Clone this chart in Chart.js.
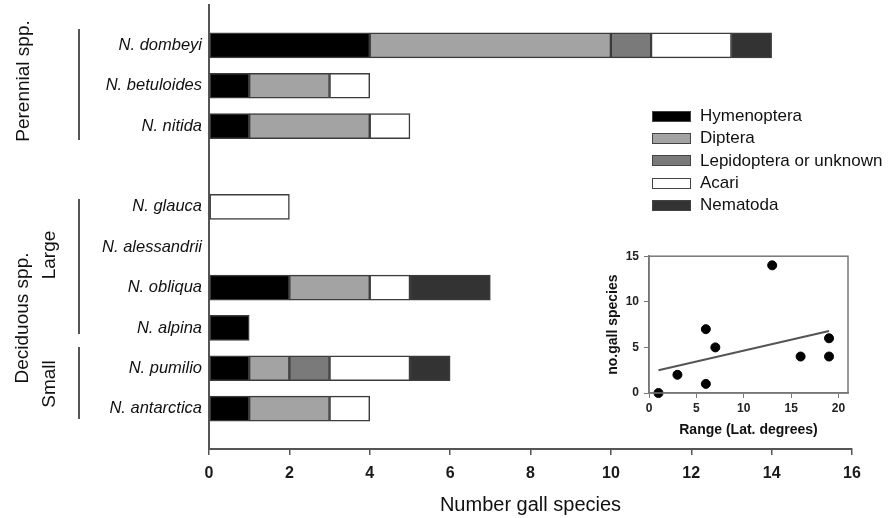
<!DOCTYPE html>
<html>
<head>
<meta charset="utf-8">
<script src="https://cdn.jsdelivr.net/npm/chart.js@4.4.1/dist/chart.umd.min.js"></script>
<style>
  html, body { margin: 0; padding: 0; background: #fff; }
  #wrap { position: relative; width: 895px; height: 518px; font-family: "Liberation Sans", Arial, sans-serif; color: #111; }
  #main { position: absolute; left: 0; top: 0; }
  #inset { position: absolute; left: 560px; top: 244px; }
  .grp { position: absolute; font-size: 19px; line-height: 1; white-space: nowrap; transform: translate(-50%, -50%) rotate(-90deg); }
  .vline { position: absolute; left: 78px; width: 2px; background: #555; }
  #legend { position: absolute; left: 652px; top: 105px; font-size: 17px; }
  #legend .row { height: 22.3px; display: flex; align-items: center; }
  #legend .box { width: 37px; height: 9px; border: 1.5px solid #444; margin-right: 9px; }
</style>
</head>
<body>
<div id="wrap">
  <canvas id="main" width="895" height="518"></canvas>
  <canvas id="inset" width="300" height="200"></canvas>
  <div id="legend"></div>

  <div class="grp" style="left:22px; top:81px;">Perennial spp.</div>
  <div class="grp" style="left:21px; top:318px;">Deciduous spp.</div>
  <div class="grp" style="left:48px; top:255px;">Large</div>
  <div class="grp" style="left:48px; top:384px;">Small</div>
  <div class="vline" style="top:29px; height:111px;"></div>
  <div class="vline" style="top:199px; height:135px;"></div>
  <div class="vline" style="top:347px; height:72px;"></div>
</div>

<script>
// species rows (blank entries are the empty slots at the ends and between groups)
const species = ['', 'N. dombeyi', 'N. betuloides', 'N. nitida', '', 'N. glauca', 'N. alessandrii', 'N. obliqua', 'N. alpina', 'N. pumilio', 'N. antarctica', ''];

// number of gall species per guild
const hymenoptera = [null, 4, 1, 1, null, null, null, 2, 1, 1, 1, null];
const diptera     = [null, 6, 2, 3, null, null, null, 2, null, 1, 2, null];
const lepidoptera = [null, 1, null, null, null, null, null, null, null, 1, null, null];
const acari       = [null, 2, 1, 1, null, 2, null, 1, null, 2, 1, null];
const nematoda    = [null, 1, null, null, null, null, null, 2, null, 1, null, null];

const guildNames  = ['Hymenoptera', 'Diptera', 'Lepidoptera or unknown', 'Acari', 'Nematoda'];
const guildColors = ['#000000', '#a3a3a3', '#7a7a7a', '#ffffff', '#333333'];

// inset: range vs number of gall species
const rangeDeg  = [1, 3, 6, 6, 7, 13, 16, 19, 19];
const gallCount = [0, 2, 1, 7, 5, 14, 4, 6, 4];
const fitX = [1, 19];
const fitY = [2.5, 6.8];

const mainTicks = [0, 2, 4, 6, 8, 10, 12, 14, 16];

var series = [hymenoptera, diptera, lepidoptera, acari, nematoda];
var datasets = series.map(function(vals, i) {
    return {
        label: guildNames[i],
        data: vals,
        backgroundColor: guildColors[i],
        borderColor: '#3c3c3c',
        borderWidth: 1.5,
        borderSkipped: false,
        barThickness: 25
    };
});

new Chart(document.getElementById('main'), {
    type: 'bar',
    data: { labels: species, datasets: datasets },
    options: {
        indexAxis: 'y',
        responsive: false,
        animation: false,
        layout: { padding: { top: 5, right: 43, left: 0, bottom: 0 } },
        plugins: { legend: { display: false }, tooltip: { enabled: false } },
        scales: {
            x: {
                type: 'linear',
                stacked: true,
                min: mainTicks[0],
                max: mainTicks[mainTicks.length - 1],
                ticks: { stepSize: 2, padding: 9, color: '#1a1a1a', font: { family: 'Liberation Sans', size: 16, weight: 'bold' } },
                grid: { drawOnChartArea: false, tickLength: 6, color: '#555', lineWidth: 1.5 },
                border: { color: '#555', width: 2 },
                title: { display: true, text: 'Number gall species', color: '#111', font: { family: 'Liberation Sans', size: 20 }, padding: { top: 0, bottom: 0.5 } },
                afterFit: function(s) { s.height = 69; }
            },
            y: {
                stacked: true,
                offset: false,
                ticks: {
                    autoSkip: false, padding: 7, color: '#111',
                    font: { family: 'Liberation Sans', size: 16.5, style: 'italic' },
                    callback: function(v, i) { return species[i] || null; }
                },
                grid: { drawOnChartArea: false, drawTicks: false },
                border: { color: '#555', width: 2 },
                afterFit: function(s) {
                    s.width = 209;
                    // axis line runs to the very top, no extra room for labels
                    s.paddingTop = 0;
                    s.paddingBottom = 0;
                }
            }
        }
    }
});

// legend
var legend = document.getElementById('legend');
guildNames.forEach(function(name, i) {
    var row = document.createElement('div');
    row.className = 'row';
    row.innerHTML = '<span class="box" style="background:' + guildColors[i] + '"></span><span>' + name + '</span>';
    legend.appendChild(row);
});

// frame around inset plot area
var framePlugin = {
    id: 'frame',
    afterDatasetsDraw: function(chart) {
        var a = chart.chartArea, ctx = chart.ctx;
        ctx.save();
        ctx.strokeStyle = '#777';
        ctx.lineWidth = 1.5;
        ctx.strokeRect(a.left, a.top, a.right - a.left, a.bottom - a.top);
        ctx.restore();
    }
};

new Chart(document.getElementById('inset'), {
    type: 'scatter',
    data: {
        datasets: [
            {
                type: 'line',
                data: fitX.map(function(x, i) { return { x: x, y: fitY[i] }; }),
                borderColor: '#555',
                borderWidth: 2,
                pointRadius: 0,
                fill: false
            },
            {
                data: rangeDeg.map(function(x, i) { return { x: x, y: gallCount[i] }; }),
                backgroundColor: '#000',
                borderColor: '#000',
                pointRadius: 4.5,
                clip: false
            }
        ]
    },
    options: {
        responsive: false,
        animation: false,
        layout: { padding: { top: 10, right: 12, left: 0, bottom: 0 } },
        plugins: { legend: { display: false }, tooltip: { enabled: false } },
        scales: {
            x: {
                type: 'linear',
                min: 0,
                max: 21,
                ticks: { stepSize: 5, includeBounds: false, padding: 3, color: '#222', font: { family: 'Liberation Sans', size: 12, weight: 'bold' } },
                grid: { drawOnChartArea: false, tickLength: 5, color: '#777' },
                border: { color: '#777', width: 1.5 },
                title: { display: true, text: 'Range (Lat. degrees)', color: '#111', font: { family: 'Liberation Sans', size: 14, weight: 'bold' }, padding: { top: 0, bottom: 5.6 } },
                afterFit: function(s) { s.height = 51; }
            },
            y: {
                type: 'linear',
                min: 0,
                max: 15,
                ticks: { stepSize: 5, padding: 5, color: '#222', font: { family: 'Liberation Sans', size: 12, weight: 'bold' } },
                grid: { drawOnChartArea: false, tickLength: 5, color: '#777' },
                border: { color: '#777', width: 1.5 },
                title: { display: true, text: 'no.gall species', color: '#111', font: { family: 'Liberation Sans', size: 14, weight: 'bold' }, padding: { top: 44.6, bottom: 0 } },
                afterFit: function(s) { s.width = 89; }
            }
        }
    },
    plugins: [framePlugin]
});
</script>
</body>
</html>
